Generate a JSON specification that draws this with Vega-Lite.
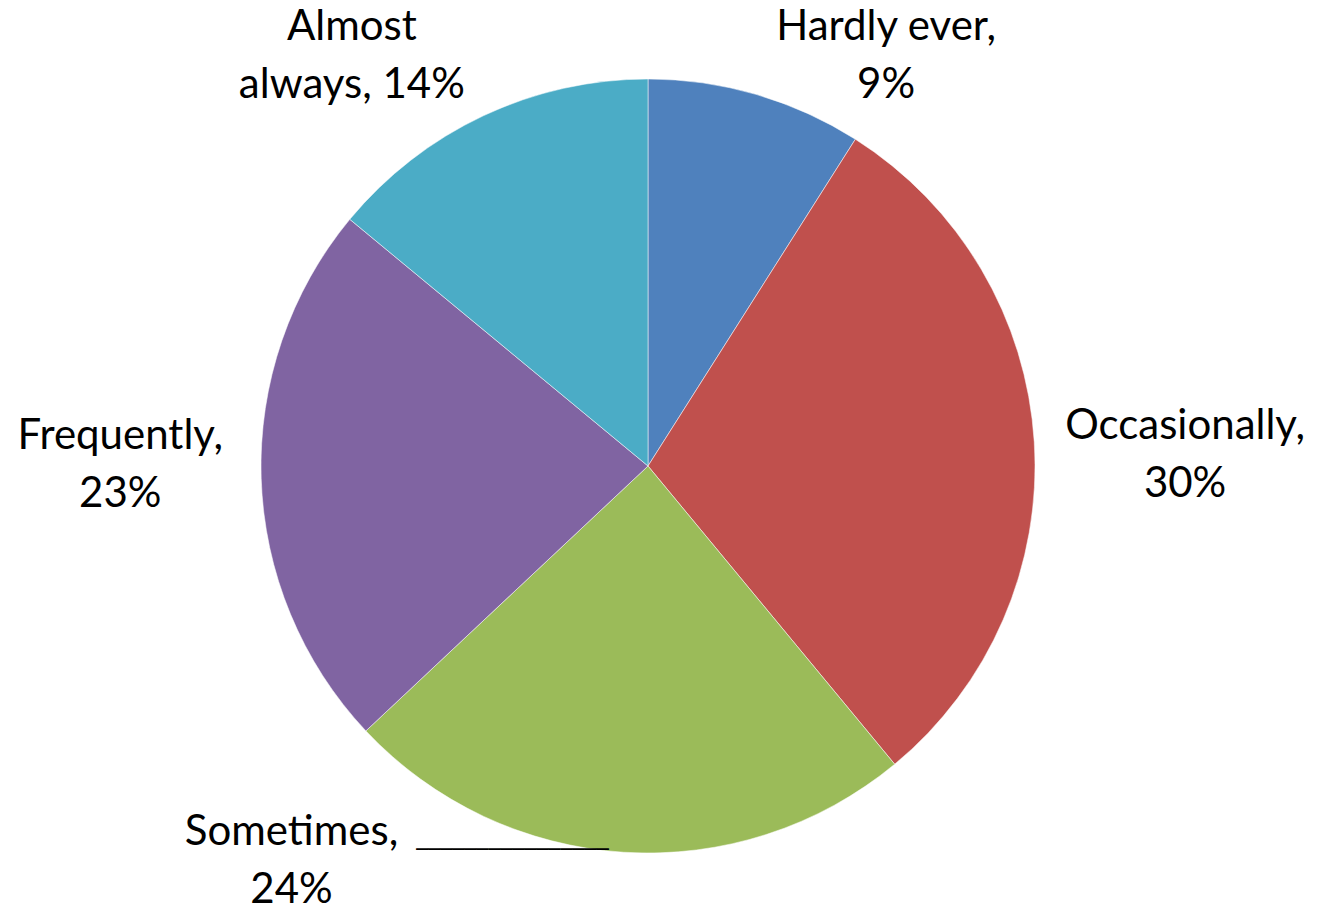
{
  "$schema": "https://vega.github.io/schema/vega-lite/v6.json",
  "autosize": "none",
  "width": 1296,
  "height": 886,
  "padding": {"left": 0, "right": 24, "top": 23, "bottom": 0},
  "background": "white",
  "config": {"view": {"stroke": null}},
  "data": {"values": [
    {"cat": "Hardly ever", "v": 9, "o": 1, "label": "Hardly ever,\n9%"},
    {"cat": "Occasionally", "v": 30, "o": 2, "label": "Occasionally,\n30%"},
    {"cat": "Sometimes", "v": 24, "o": 3, "label": "Sometimes,\n24%"},
    {"cat": "Frequently", "v": 23, "o": 4, "label": "Frequently,\n23%"},
    {"cat": "Almost always", "v": 14, "o": 5, "label": "Almost\nalways, 14%"}
  ]},
  "encoding": {
    "theta": {"field": "v", "type": "quantitative", "stack": true},
    "order": {"field": "o", "type": "quantitative"}
  },
  "layer": [
    {
      "mark": {"type": "arc", "outerRadius": 387, "stroke": "#ffffff", "strokeWidth": 1, "strokeOpacity": 0.5},
      "encoding": {
        "color": {
          "field": "cat", "type": "nominal", "legend": null,
          "scale": {
            "domain": ["Hardly ever", "Occasionally", "Sometimes", "Frequently", "Almost always"],
            "range": ["#4F81BD", "#C0504D", "#9BBB59", "#8064A2", "#4BACC6"]
          }
        }
      }
    },
    {
      "mark": {"type": "text", "radius": 470, "dx": 107, "dy": 12, "font": "Lato", "fontSize": 42, "lineBreak": "\n", "lineHeight": 58, "align": "center", "baseline": "middle", "color": "#000000"},
      "encoding": {"text": {"condition": {"test": "datum.cat === 'Hardly ever'", "field": "label"}, "value": ""}}
    },
    {
      "mark": {"type": "text", "radius": 470, "dx": 68, "dy": -10, "font": "Lato", "fontSize": 42, "lineBreak": "\n", "lineHeight": 58, "align": "center", "baseline": "middle", "color": "#000000"},
      "encoding": {"text": {"condition": {"test": "datum.cat === 'Occasionally'", "field": "label"}, "value": ""}}
    },
    {
      "mark": {"type": "text", "radius": 470, "dx": -327, "dy": -103, "font": "Lato", "fontSize": 42, "lineBreak": "\n", "lineHeight": 58, "align": "center", "baseline": "middle", "color": "#000000"},
      "encoding": {"text": {"condition": {"test": "datum.cat === 'Sometimes'", "field": "label"}, "value": ""}}
    },
    {
      "mark": {"type": "text", "radius": 470, "dx": -106, "dy": -85, "font": "DejaVu Sans", "fontSize": 20, "align": "center", "baseline": "middle", "color": "#000000"},
      "encoding": {"text": {"condition": {"test": "datum.cat === 'Sometimes'", "value": "────────────────"}, "value": ""}}
    },
    {
      "mark": {"type": "text", "radius": 470, "dx": -58, "dy": -45, "font": "Lato", "fontSize": 42, "lineBreak": "\n", "lineHeight": 58, "align": "center", "baseline": "middle", "color": "#000000"},
      "encoding": {"text": {"condition": {"test": "datum.cat === 'Frequently'", "field": "label"}, "value": ""}}
    },
    {
      "mark": {"type": "text", "radius": 470, "dx": -96, "dy": -14, "font": "Lato", "fontSize": 42, "lineBreak": "\n", "lineHeight": 58, "align": "center", "baseline": "middle", "color": "#000000"},
      "encoding": {"text": {"condition": {"test": "datum.cat === 'Almost always'", "field": "label"}, "value": ""}}
    }
  ]
}
